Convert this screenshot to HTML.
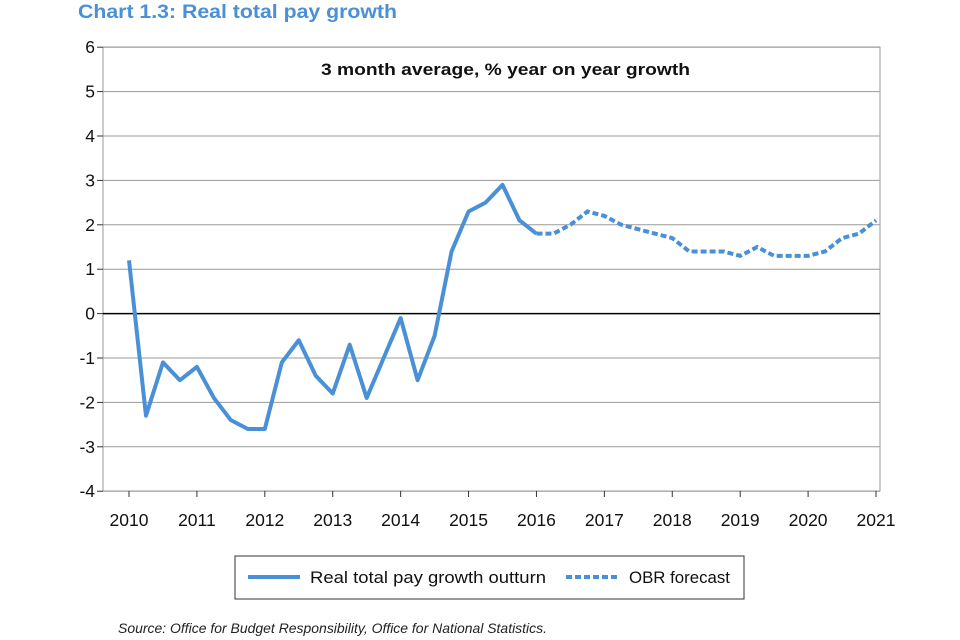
<!DOCTYPE html>
<html><head><meta charset="utf-8">
<style>
body{margin:0;background:#fff;font-family:"Liberation Sans",sans-serif;}
svg{display:block}
</style></head>
<body>
<svg width="960" height="640" viewBox="0 0 960 640" xmlns="http://www.w3.org/2000/svg">
<text x="78" y="18" font-size="19" font-weight="bold" fill="#4a90d6" textLength="319" lengthAdjust="spacingAndGlyphs">Chart 1.3: Real total pay growth</text>
<rect x="103" y="47" width="777" height="444" fill="none" stroke="#9a9a9a" stroke-width="1"/>
<g id="grid"></g>
<g id="axes"></g>
<text x="321" y="75" font-size="17" font-weight="bold" fill="#111" textLength="369" lengthAdjust="spacingAndGlyphs">3 month average, % year on year growth</text>
<g id="series"></g>
<rect x="235" y="556" width="509" height="43" fill="#fff" stroke="#333" stroke-width="1"/>
<line x1="248" y1="577" x2="300" y2="577" stroke="#4a90d6" stroke-width="4"/>
<text x="310" y="583" font-size="17" fill="#111" textLength="236" lengthAdjust="spacingAndGlyphs">Real total pay growth outturn</text>
<line x1="566" y1="577" x2="620" y2="577" stroke="#4a90d6" stroke-width="4" stroke-dasharray="6,3"/>
<text x="629" y="583" font-size="17" fill="#111" textLength="101" lengthAdjust="spacingAndGlyphs">OBR forecast</text>
<text x="118" y="633" font-size="14" font-style="italic" fill="#222" textLength="429" lengthAdjust="spacingAndGlyphs">Source: Office for Budget Responsibility, Office for National Statistics.</text>
</svg>
<script>
const yTicks=[6,5,4,3,2,1,0,-1,-2,-3,-4];
const xTicks=[2010,2011,2012,2013,2014,2015,2016,2017,2018,2019,2020,2021];
const outturnT=[2010,2010.25,2010.5,2010.75,2011,2011.25,2011.5,2011.75,2012,2012.25,2012.5,2012.75,2013,2013.25,2013.5,2013.75,2014,2014.25,2014.5,2014.75,2015,2015.25,2015.5,2015.75,2016];
const outturnV=[1.2,-2.3,-1.1,-1.5,-1.2,-1.9,-2.4,-2.6,-2.6,-1.1,-0.6,-1.4,-1.8,-0.7,-1.9,-1.0,-0.1,-1.5,-0.5,1.4,2.3,2.5,2.9,2.1,1.8];
const forecastT=[2016,2016.25,2016.5,2016.75,2017,2017.25,2017.5,2017.75,2018,2018.25,2018.5,2018.75,2019,2019.25,2019.5,2019.75,2020,2020.25,2020.5,2020.75,2021];
const forecastV=[1.8,1.8,2.0,2.3,2.2,2.0,1.9,1.8,1.7,1.4,1.4,1.4,1.3,1.5,1.3,1.3,1.3,1.4,1.7,1.8,2.1];
const NS="http://www.w3.org/2000/svg";
const X=t=>129+(t-2010)*(876-129)/11;
const Y=v=>313.6-v*44.4;
function mk(tag,attrs,parent){const e=document.createElementNS(NS,tag);for(const k in attrs)e.setAttribute(k,attrs[k]);document.getElementById(parent).appendChild(e);return e;}
yTicks.forEach(v=>{
 const g=mk('line',{x1:103,x2:880,y1:Y(v),y2:Y(v),stroke:v===0?'#000':'#9a9a9a','stroke-width':v===0?1.5:1},'grid');
 
 
 const tk=mk('line',{x1:97,x2:103,y1:Y(v),y2:Y(v),stroke:'#333'},'axes');
 
 
 const t=mk('text',{x:95,y:Y(v)+6,'font-size':17.5,'text-anchor':'end',fill:'#111'},'axes');
 t.textContent=v;
 
 
});
xTicks.forEach(v=>{
 const tk=mk('line',{x1:X(v),x2:X(v),y1:491,y2:497,stroke:'#333'},'axes');
 
 
 const t=mk('text',{x:X(v),y:526,'font-size':17.5,'text-anchor':'middle',fill:'#111'},'axes');
 t.textContent=v;
 
 
});
const p1=mk('polyline',{points:outturnT.map((t,i)=>X(t)+','+Y(outturnV[i])).join(' '),fill:'none',stroke:'#4a90d6','stroke-width':4,'stroke-linejoin':'round'},'series');


const p2=mk('polyline',{points:forecastT.map((t,i)=>X(t)+','+Y(forecastV[i])).join(' '),fill:'none',stroke:'#4a90d6','stroke-width':4,'stroke-dasharray':'6,3'},'series');


</script>
</body></html>
